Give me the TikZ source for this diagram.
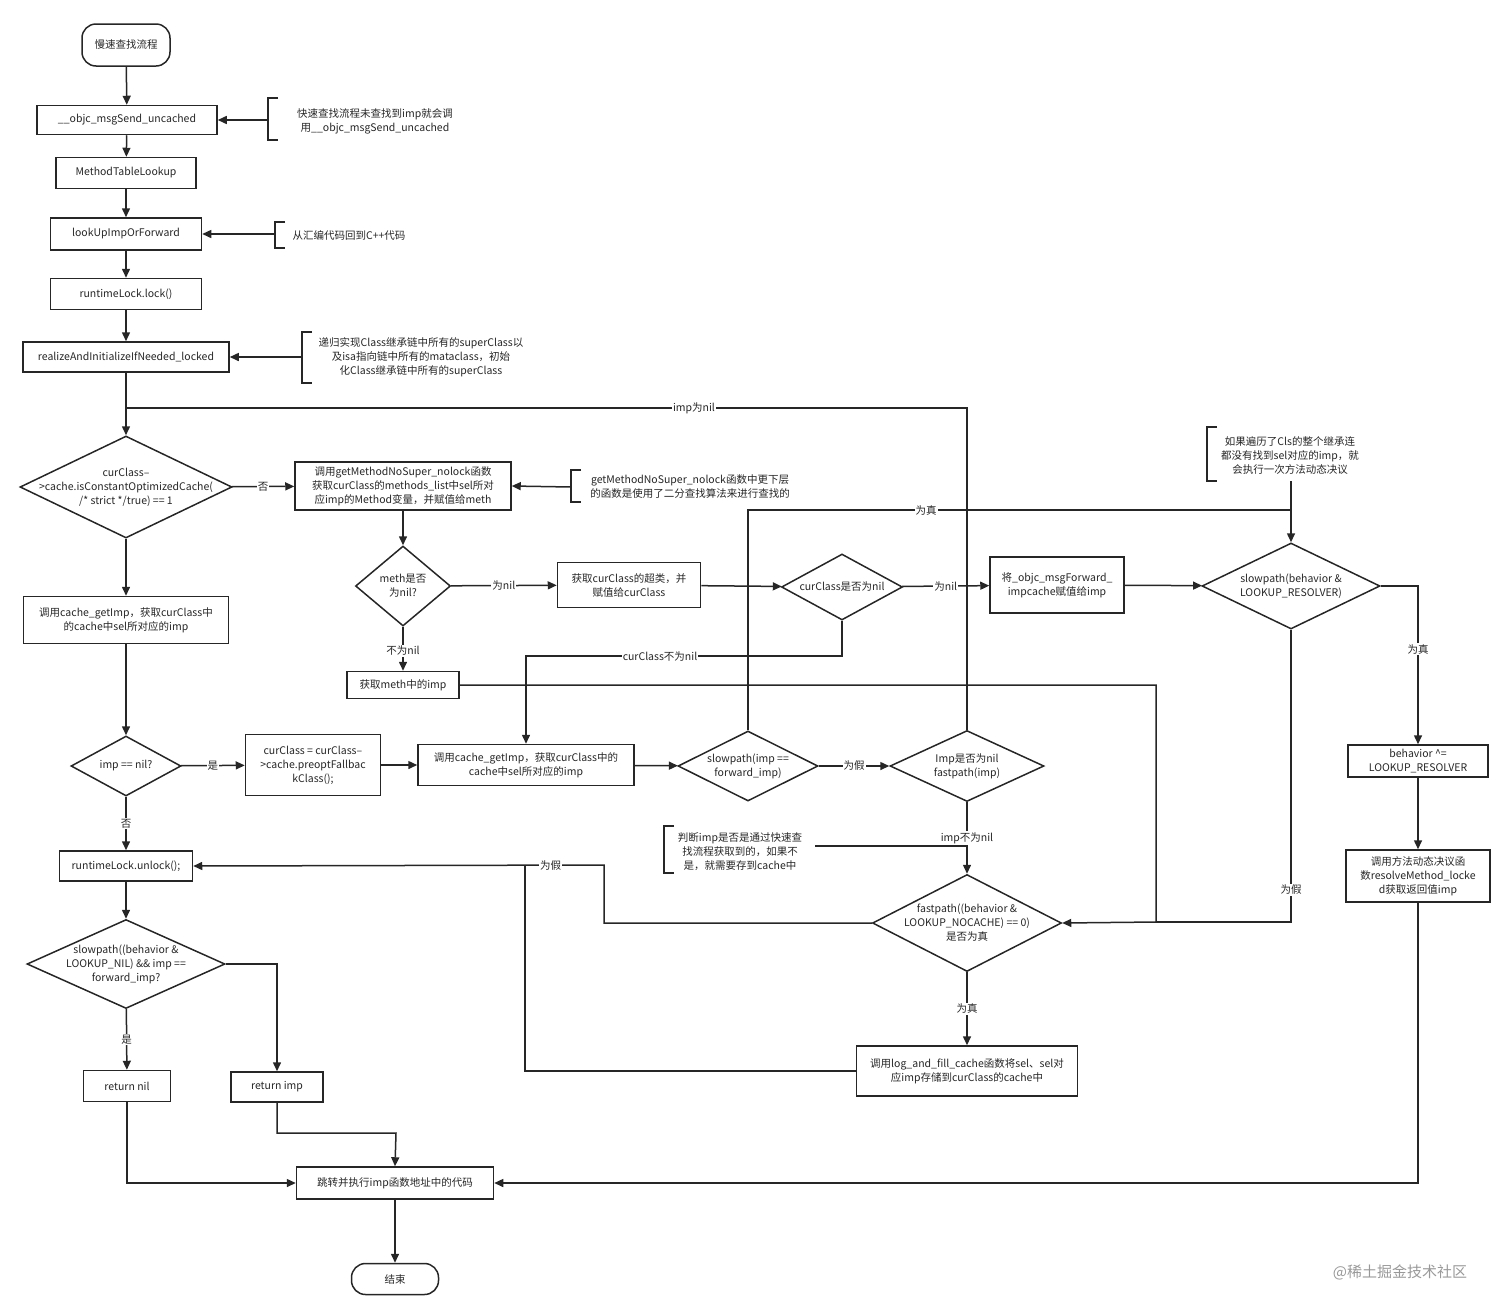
\documentclass[tikz,border=0pt]{standalone}
\usepackage{fontspec}
\setmainfont{Noto Sans CJK SC}
\usetikzlibrary{shapes.geometric,arrows.meta}
\begin{document}
\begin{tikzpicture}[x=1pt,y=-1pt,
  every node/.style={font=\fontsize{10.5}{14}\selectfont, align=center, text=black!85},
  line/.style={draw=black!85, line width=1.5pt},
  arr/.style={line, -{Triangle[length=9pt,width=8pt]}},
  box/.style={draw=black!85, line width=1.5pt, inner sep=1pt},
  dia/.style={draw=black!85, line width=1.5pt, diamond, inner sep=0pt, label={[align=center, font=\fontsize{10.5}{14}\selectfont, text=black!85]center:#1}},
  term/.style={draw=black!85, line width=1.5pt, rounded corners=14pt},
  lab/.style={fill=white, inner sep=1pt},
  com/.style={line width=1.2pt, draw=black!85}]
\useasboundingbox (0,0) rectangle (1512,1315);

\node[term, minimum width=88, minimum height=42] (start) at (126,45) {慢速查找流程};
\node[box, minimum width=180, minimum height=29] (n1) at (127,120) {\_\_objc\_msgSend\_uncached};
\node[box, minimum width=140, minimum height=31] (n2) at (126,173) {MethodTableLookup};
\node[box, minimum width=151, minimum height=32] (n3) at (126,234) {lookUpImpOrForward};
\node[box, minimum width=151, minimum height=31] (n4) at (126,294) {runtimeLock.lock()};
\node[box, minimum width=206, minimum height=30] (n5) at (126,357) {realizeAndInitializeIfNeeded\_locked};

% comments
\draw[com] (278,98) -- (268,98) -- (268,140) -- (278,140);
\coordinate (c1) at (268,120);
\node (c1t) at (375,121) {快速查找流程未查找到imp就会调\\用\_\_objc\_msgSend\_uncached};
\draw[com] (285,222) -- (275,222) -- (275,248) -- (285,248);
\coordinate (c2) at (275,234);
\node (c2t) at (349,235) {从汇编代码回到C++代码};
\draw[com] (312,332) -- (302,332) -- (302,383) -- (312,383);
\coordinate (c3) at (302,357);
\node (c3t) at (421,357) {递归实现Class继承链中所有的superClass以\\及isa指向链中所有的mataclass，初始\\化Class继承链中所有的superClass};
\draw[com] (581,470) -- (571,470) -- (571,502) -- (581,502);
\coordinate (c4) at (571,487);
\node (c4t) at (690,487) {getMethodNoSuper\_nolock函数中更下层\\的函数是使用了二分查找算法来进行查找的};
\draw[com] (1217,427) -- (1207,427) -- (1207,481) -- (1217,481);
\coordinate (c5) at (1291,481);
\node (c5t) at (1290,456) {如果遍历了Cls的整个继承连\\都没有找到sel对应的imp，就\\会执行一次方法动态决议};
\draw[com] (674,826) -- (664,826) -- (664,873) -- (674,873);
\node (c6t) at (740,852) {判断imp是否是通过快速查\\找流程获取到的，如果不\\是，就需要存到cache中};
\coordinate (c6) at (815,846);

\node[dia={curClass–\\>cache.isConstantOptimizedCache(\\/* strict */true) == 1}, minimum width=212, minimum height=102] (d1) at (126,487) {};
\node[box, minimum width=216, minimum height=48] (bgm) at (403,486) {调用getMethodNoSuper\_nolock函数\\获取curClass的methods\_list中sel所对\\应imp的Method变量，并赋值给meth};
\node[box, minimum width=205, minimum height=47] (bc1) at (126,620) {调用cache\_getImp，获取curClass中\\的cache中sel所对应的imp};
\node[dia={imp == nil?}, minimum width=110, minimum height=60] (dimp) at (126,766) {};
\node[box, minimum width=135, minimum height=61] (bfb) at (313,765) {curClass = curClass–\\>cache.preoptFallbac\\kClass();};
\node[box, minimum width=216, minimum height=41] (bc2) at (526,765) {调用cache\_getImp，获取curClass中的\\cache中sel所对应的imp};
\node[dia={slowpath(imp ==\\forward\_imp)}, minimum width=140, minimum height=70] (dsf) at (748,766) {};
\node[dia={Imp是否为nil\\fastpath(imp)}, minimum width=154, minimum height=71] (din) at (967,766) {};
\node[dia={meth是否\\为nil?}, minimum width=95, minimum height=80] (dm) at (403,586) {};
\node[box, minimum width=143, minimum height=45] (bsup) at (629,585) {获取curClass的超类，并\\赋值给curClass};
\node[dia={curClass是否为nil}, minimum width=121, minimum height=66] (dcn) at (842,587) {};
\node[box, minimum width=134, minimum height=56] (bfw) at (1057,585) {将\_objc\_msgForward\_\\impcache赋值给imp};
\node[dia={slowpath(behavior \&\\LOOKUP\_RESOLVER)}, minimum width=178, minimum height=86] (dres) at (1291,586) {};
\node[box, minimum width=112, minimum height=27] (bmi) at (403,685) {获取meth中的imp};
\node[box, minimum width=140, minimum height=32] (bbeh) at (1418,761) {behavior \^{}=\\LOOKUP\_RESOLVER};
\node[box, minimum width=144, minimum height=52] (bres) at (1418,876) {调用方法动态决议函\\数resolveMethod\_locke\\d获取返回值imp};
\node[dia={fastpath((behavior \&\\LOOKUP\_NOCACHE) == 0)\\是否为真}, minimum width=189, minimum height=97] (dfp) at (967,923) {};
\node[box, minimum width=221, minimum height=50] (blog) at (967,1071) {调用log\_and\_fill\_cache函数将sel、sel对\\应imp存储到curClass的cache中};
\node[box, minimum width=133, minimum height=30] (bunl) at (126,866) {runtimeLock.unlock();};
\node[dia={slowpath((behavior \&\\LOOKUP\_NIL) \&\& imp ==\\forward\_imp?}, minimum width=198, minimum height=89] (dsl) at (126,964) {};
\node[box, minimum width=87, minimum height=31] (bnil) at (127,1086) {return nil};
\node[box, minimum width=92, minimum height=30] (bimp) at (277,1087) {return imp};
\node[box, minimum width=197, minimum height=32] (bjmp) at (395,1183) {跳转并执行imp函数地址中的代码};
\node[term, minimum width=87, minimum height=31] (end) at (395,1279) {结束};

% main column
\draw[arr] (start) -- (n1);
\draw[arr] (n1) -- (n2);
\draw[arr] (n2) -- (n3);
\draw[arr] (n3) -- (n4);
\draw[arr] (n4) -- (n5);
\draw[arr] (c1) -- (n1.east);
\draw[arr] (c2) -- (n3.east);
\draw[arr] (c3) -- (n5.east);
\draw[arr] (c4) -- (bgm.east);
\draw[arr] (n5) -- (d1);
\draw[arr] (d1) -- node[lab]{否} (bgm);
\draw[arr] (d1) -- (bc1);
\draw[arr] (bc1) -- (dimp);
\draw[arr] (dimp) -- node[lab]{是} (bfb);
\draw[arr] (bfb) -- (bc2);
\draw[arr] (bc2) -- (dsf);
\draw[arr] (dsf) -- node[lab]{为假} (din);
\draw[line] (din.north) -- (967,408) -- (694,408) node[lab]{imp为nil} -- (126,408);
\draw[arr] (bgm) -- (dm);
\draw[arr] (dm) -- node[lab]{为nil} (bsup);
\draw[arr] (bsup) -- (dcn);
\draw[arr] (dcn) -- node[lab]{为nil} (bfw);
\draw[arr] (bfw) -- (dres);
\draw[arr] (dcn.south) |- (660,656) node[lab]{curClass不为nil} -| (bc2.north);
\draw[arr] (dm) -- node[lab, pos=0.55]{不为nil} (bmi);
\draw[arr] (c5) -- (dres.north);
\draw[line] (dsf.north) -- (748,510) -- (926,510) node[lab]{为真} -- (1291,510);
\draw[arr] (bmi.east) -| (1156,922) -- (dfp.east);
\draw[arr] (dres.east) -| node[lab, pos=0.7]{为真} (bbeh.north);
\draw[arr] (bbeh) -- (bres);
\draw[arr] (bres.south) |- (bjmp.east);
\draw[line] (dres.south) -- (1291,890) node[lab]{为假} -- (1291,922) -- (1156,922);
\draw[arr] (din) -- node[lab, pos=0.5]{imp不为nil} (dfp);
\draw[line] (c6) -- (967,846);
\draw[arr] (dfp.west) -| (604,865) -- node[lab, pos=0.13]{为假} (bunl.east);
\draw[arr] (dfp) -- node[lab]{为真} (blog);
\draw[line] (blog.west) -| (525,865);
\draw[arr] (dimp) -- node[lab]{否} (bunl);
\draw[arr] (bunl) -- (dsl);
\draw[arr] (dsl) -- node[lab, pos=0.5]{是} (bnil);
\draw[arr] (dsl.east) -| (bimp.north);
\draw[arr] (bnil.south) |- (bjmp.west);
\draw[arr] (bimp.south) |- (396,1133) -- (bjmp.north);
\draw[arr] (bjmp) -- (end);

\node[text=black!40, font=\fontsize{15}{18}\selectfont] (wm) at (1400,1272) {@稀土掘金技术社区};
\end{tikzpicture}
\end{document}
